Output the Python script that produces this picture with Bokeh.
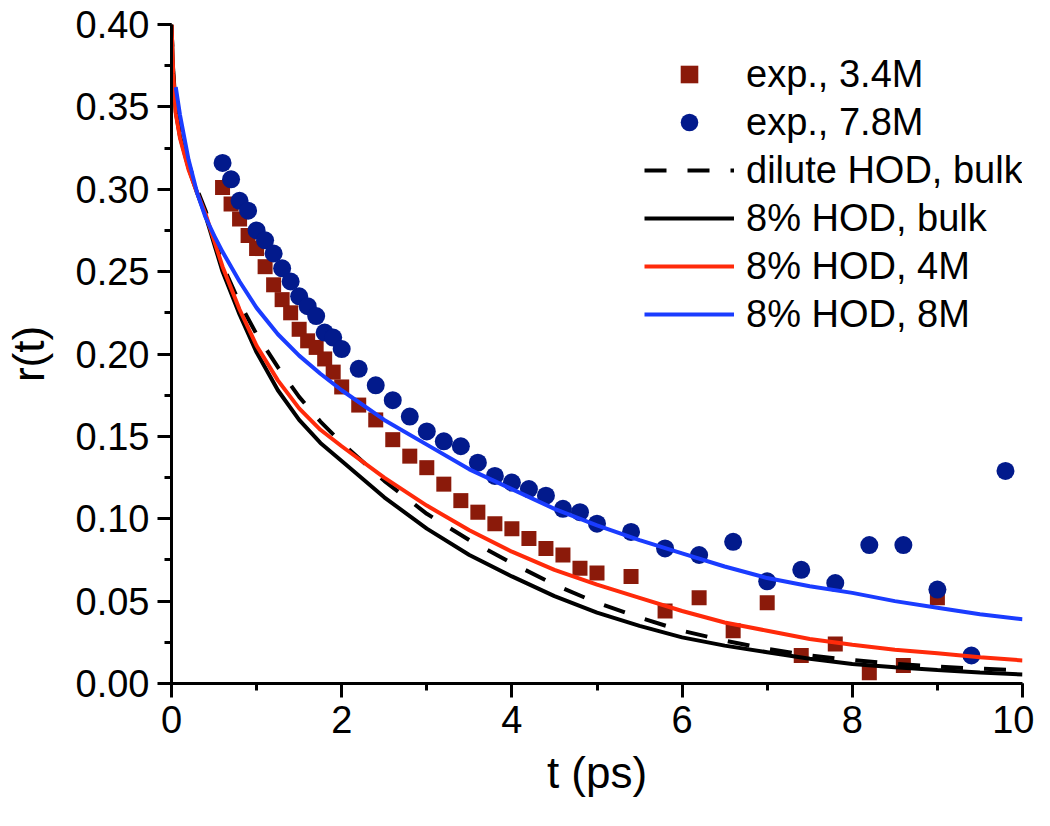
from bokeh.plotting import figure
from bokeh.models import Legend, LegendItem, SingleIntervalTicker, NumeralTickFormatter, Range1d
from bokeh.embed import file_html
from bokeh.resources import INLINE

# ---- data ----
t_sim = [0, 0.02, 0.05, 0.1, 0.2, 0.3, 0.4, 0.5, 0.6, 0.8, 1.0, 1.25, 1.5, 1.75, 2.0,
         2.5, 3.0, 3.5, 4.0, 4.5, 5.0, 5.5, 6.0, 6.5, 7.0, 7.5, 8.0, 8.5, 9.0, 9.5, 10.0]

r_dilute_bulk = [0.400, 0.372, 0.350, 0.336, 0.316, 0.300, 0.287, 0.271, 0.254, 0.231, 0.212,
                 0.192, 0.174, 0.159, 0.146, 0.123, 0.103, 0.087, 0.073, 0.060, 0.049, 0.040,
                 0.032, 0.026, 0.021, 0.017, 0.0142, 0.0120, 0.0102, 0.0090, 0.0080]

r_8_bulk = [0.400, 0.370, 0.347, 0.332, 0.313, 0.298, 0.284, 0.267, 0.250, 0.224, 0.201,
            0.178, 0.160, 0.146, 0.135, 0.113, 0.094, 0.078, 0.065, 0.053, 0.043, 0.035,
            0.028, 0.023, 0.019, 0.015, 0.0118, 0.0098, 0.0082, 0.0067, 0.0055]

r_8_4M = [0.400, 0.370, 0.346, 0.331, 0.312, 0.298, 0.285, 0.269, 0.253, 0.227, 0.205,
          0.184, 0.167, 0.154, 0.144, 0.125, 0.108, 0.093, 0.080, 0.069, 0.060, 0.052,
          0.044, 0.037, 0.032, 0.027, 0.0235, 0.0205, 0.0183, 0.0160, 0.0140]

t_blue = t_sim[2:]
r_8_8M = [0.362, 0.345, 0.318, 0.298, 0.283, 0.272, 0.262, 0.244, 0.228,
          0.212, 0.199, 0.188, 0.178, 0.160, 0.145, 0.130, 0.118, 0.106, 0.096, 0.087,
          0.079, 0.071, 0.064, 0.059, 0.055, 0.050, 0.046, 0.042, 0.039]

t_exp34 = [0.6, 0.7, 0.8, 0.9, 1.0, 1.1, 1.2, 1.3, 1.4, 1.5, 1.6, 1.7, 1.8, 1.9, 2.0,
           2.2, 2.4, 2.6, 2.8, 3.0, 3.2, 3.4, 3.6, 3.8, 4.0, 4.2, 4.4, 4.6, 4.8, 5.0,
           5.4, 5.8, 6.2, 6.6, 7.0, 7.4, 7.8, 8.2, 8.6, 9.0]
r_exp34 = [0.301, 0.291, 0.282, 0.272, 0.264, 0.253, 0.242, 0.233, 0.225, 0.215, 0.208,
           0.204, 0.197, 0.189, 0.180, 0.169, 0.160, 0.148, 0.138, 0.131, 0.121, 0.111,
           0.104, 0.097, 0.094, 0.088, 0.082, 0.078, 0.070, 0.067, 0.065, 0.044, 0.052,
           0.032, 0.049, 0.017, 0.024, 0.0065, 0.011, 0.052]

t_exp78 = [0.6, 0.7, 0.8, 0.9, 1.0, 1.1, 1.2, 1.3, 1.4, 1.5, 1.6, 1.7, 1.8, 1.9, 2.0,
           2.2, 2.4, 2.6, 2.8, 3.0, 3.2, 3.4, 3.6, 3.8, 4.0, 4.2, 4.4, 4.6, 4.8, 5.0,
           5.4, 5.8, 6.2, 6.6, 7.0, 7.4, 7.8, 8.2, 8.6, 9.0, 9.4, 9.8]
r_exp78 = [0.316, 0.306, 0.293, 0.287, 0.275, 0.269, 0.261, 0.252, 0.244, 0.235, 0.229,
           0.223, 0.213, 0.210, 0.203, 0.191, 0.181, 0.172, 0.162, 0.153, 0.147, 0.144,
           0.134, 0.126, 0.122, 0.118, 0.114, 0.106, 0.104, 0.097, 0.092, 0.082, 0.078,
           0.086, 0.062, 0.069, 0.061, 0.084, 0.084, 0.057, 0.017, 0.129]

labels = ["exp., 3.4M", "exp., 7.8M", "dilute HOD, bulk", "8% HOD, bulk",
          "8% HOD, 4M", "8% HOD, 8M"]

FONT = "Liberation Sans"

p = figure(width=1034, height=810, x_range=Range1d(0, 10), y_range=Range1d(0, 0.40),
           output_backend="svg", toolbar_location=None,
           min_border_left=169, min_border_right=12, min_border_top=24, min_border_bottom=127)
p.xgrid.visible = False
p.ygrid.visible = False
p.outline_line_color = None
p.background_fill_color = "white"
p.border_fill_color = "white"

sq = p.scatter(t_exp34, r_exp34, marker="square", size=15, fill_color="#8B1A0A", line_color=None)
ci = p.scatter(t_exp78, r_exp78, marker="circle", size=18, fill_color="#021A8C", line_color=None)
l_dil = p.line(t_sim, r_dilute_bulk, line_color="black", line_width=4, line_dash="22 21")
l_blk = p.line(t_sim, r_8_bulk, line_color="black", line_width=4)
l_red = p.line(t_sim, r_8_4M, line_color="#FF2A0A", line_width=4)
l_blu = p.line(t_blue, r_8_8M, line_color="#1A3CFF", line_width=4)

for ax in (p.xaxis[0], p.yaxis[0]):
    ax.axis_line_width = 3
    ax.major_tick_line_width = 3
    ax.minor_tick_line_width = 3
    ax.major_tick_out = 14
    ax.major_tick_in = 0
    ax.minor_tick_out = 7
    ax.minor_tick_in = 0
    ax.major_label_text_font = FONT
    ax.major_label_text_font_size = "38px"
    ax.major_label_text_color = "black"
    ax.axis_label_text_font = FONT
    ax.axis_label_text_font_size = "44px"
    ax.axis_label_text_font_style = "normal"
    ax.axis_label_text_color = "black"

p.xaxis[0].ticker = SingleIntervalTicker(interval=2, num_minor_ticks=2)
p.yaxis[0].ticker = SingleIntervalTicker(interval=0.05, num_minor_ticks=2)
p.yaxis[0].formatter = NumeralTickFormatter(format="0.00")
p.xaxis[0].axis_label = "t (ps)"
p.yaxis[0].axis_label = "r(t)"
p.xaxis[0].major_label_standoff = 8
p.yaxis[0].major_label_standoff = 8
p.xaxis[0].axis_label_standoff = 12
p.yaxis[0].axis_label_standoff = 20

legend = Legend(items=[LegendItem(label=labels[0], renderers=[sq]),
                       LegendItem(label=labels[1], renderers=[ci]),
                       LegendItem(label=labels[2], renderers=[l_dil]),
                       LegendItem(label=labels[3], renderers=[l_blk]),
                       LegendItem(label=labels[4], renderers=[l_red]),
                       LegendItem(label=labels[5], renderers=[l_blu])],
                location=(473, 347))
legend.padding = 0
legend.margin = 0
legend.spacing = 4
legend.glyph_width = 90
legend.glyph_height = 44
legend.label_height = 44
legend.label_standoff = 12
legend.label_text_font = FONT
legend.label_text_font_size = "38px"
legend.label_text_color = "black"
legend.border_line_color = None
legend.background_fill_alpha = 0
p.add_layout(legend)

open("out.html", "w").write(file_html(p, INLINE))
